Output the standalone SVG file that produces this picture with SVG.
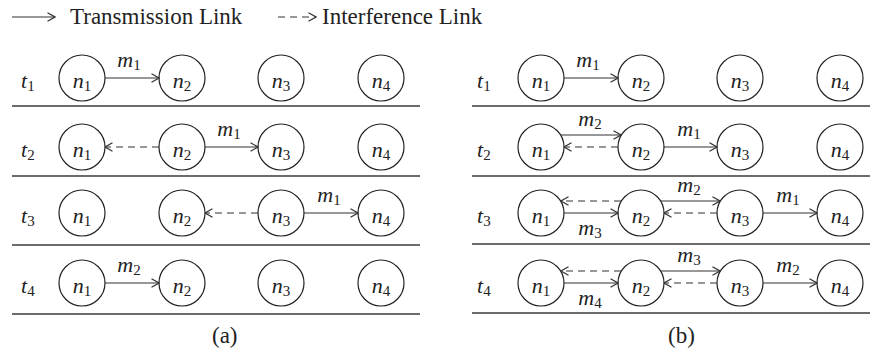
<svg xmlns="http://www.w3.org/2000/svg" width="870" height="354" viewBox="0 0 870 354">
<style>
.nd{fill:none;stroke:#222;stroke-width:1.2}
.sep{stroke:#3a3a3a;stroke-width:1.6}
.ln{stroke:#333;stroke-width:1.2;fill:none}
.ds{stroke-dasharray:7 5}
</style>
<defs>
<marker id="ah" viewBox="0 0 10 10" refX="9.5" refY="5" markerWidth="10" markerHeight="10" markerUnits="userSpaceOnUse" orient="auto">
<path d="M2,0.8 L9.5,5 L2,9.2" fill="none" stroke="#333" stroke-width="1.2"/>
</marker>
</defs>
<rect width="870" height="354" fill="#fff"/>
<g id="legend" fill="#222">
<line class="ln" x1="12" y1="17" x2="55" y2="17" marker-end="url(#ah)"/>
<text x="70" y="24" font-family="Liberation Serif, Noto Serif, serif" font-size="23">Transmission Link</text>
<line class="ln ds" x1="278" y1="17" x2="316" y2="17" marker-end="url(#ah)"/>
<text x="322" y="24" font-family="Liberation Serif, Noto Serif, serif" font-size="23">Interference Link</text>
</g>
<g id="separators">
<line class="sep" x1="12" y1="106" x2="420" y2="106"/>
<line class="sep" x1="12" y1="176" x2="420" y2="176"/>
<line class="sep" x1="12" y1="245" x2="420" y2="245"/>
<line class="sep" x1="12" y1="314" x2="420" y2="314"/>
<line class="sep" x1="472" y1="106" x2="870" y2="106"/>
<line class="sep" x1="472" y1="176" x2="870" y2="176"/>
<line class="sep" x1="472" y1="244" x2="870" y2="244"/>
<line class="sep" x1="472" y1="313" x2="870" y2="313"/>
</g>
<g id="time-labels" fill="#222" font-family="Liberation Serif, Noto Serif, serif" font-size="22" font-style="italic">
<text x="21" y="88">t<tspan dy="3" font-size="15" font-style="normal">1</tspan></text>
<text x="21" y="157">t<tspan dy="3" font-size="15" font-style="normal">2</tspan></text>
<text x="21" y="223">t<tspan dy="3" font-size="15" font-style="normal">3</tspan></text>
<text x="21" y="293">t<tspan dy="3" font-size="15" font-style="normal">4</tspan></text>
<text x="477" y="88">t<tspan dy="3" font-size="15" font-style="normal">1</tspan></text>
<text x="477" y="157">t<tspan dy="3" font-size="15" font-style="normal">2</tspan></text>
<text x="477" y="223">t<tspan dy="3" font-size="15" font-style="normal">3</tspan></text>
<text x="477" y="293">t<tspan dy="3" font-size="15" font-style="normal">4</tspan></text>
</g>
<g id="nodes" fill="#222" font-family="Liberation Serif, Noto Serif, serif" font-size="22" font-style="italic" text-anchor="middle">
<g id="a1n1"><circle class="nd" cx="82" cy="78" r="23"/><text x="82" y="88">n<tspan dy="3" font-size="15" font-style="normal">1</tspan></text></g>
<g id="a1n2"><circle class="nd" cx="182" cy="78" r="23"/><text x="182" y="88">n<tspan dy="3" font-size="15" font-style="normal">2</tspan></text></g>
<g id="a1n3"><circle class="nd" cx="281" cy="78" r="23"/><text x="281" y="88">n<tspan dy="3" font-size="15" font-style="normal">3</tspan></text></g>
<g id="a1n4"><circle class="nd" cx="381" cy="78" r="23"/><text x="381" y="88">n<tspan dy="3" font-size="15" font-style="normal">4</tspan></text></g>
<g id="a2n1"><circle class="nd" cx="82" cy="147" r="23"/><text x="82" y="157">n<tspan dy="3" font-size="15" font-style="normal">1</tspan></text></g>
<g id="a2n2"><circle class="nd" cx="182" cy="147" r="23"/><text x="182" y="157">n<tspan dy="3" font-size="15" font-style="normal">2</tspan></text></g>
<g id="a2n3"><circle class="nd" cx="281" cy="147" r="23"/><text x="281" y="157">n<tspan dy="3" font-size="15" font-style="normal">3</tspan></text></g>
<g id="a2n4"><circle class="nd" cx="381" cy="147" r="23"/><text x="381" y="157">n<tspan dy="3" font-size="15" font-style="normal">4</tspan></text></g>
<g id="a3n1"><circle class="nd" cx="82" cy="213" r="23"/><text x="82" y="223">n<tspan dy="3" font-size="15" font-style="normal">1</tspan></text></g>
<g id="a3n2"><circle class="nd" cx="182" cy="213" r="23"/><text x="182" y="223">n<tspan dy="3" font-size="15" font-style="normal">2</tspan></text></g>
<g id="a3n3"><circle class="nd" cx="281" cy="213" r="23"/><text x="281" y="223">n<tspan dy="3" font-size="15" font-style="normal">3</tspan></text></g>
<g id="a3n4"><circle class="nd" cx="381" cy="213" r="23"/><text x="381" y="223">n<tspan dy="3" font-size="15" font-style="normal">4</tspan></text></g>
<g id="a4n1"><circle class="nd" cx="82" cy="283" r="23"/><text x="82" y="293">n<tspan dy="3" font-size="15" font-style="normal">1</tspan></text></g>
<g id="a4n2"><circle class="nd" cx="182" cy="283" r="23"/><text x="182" y="293">n<tspan dy="3" font-size="15" font-style="normal">2</tspan></text></g>
<g id="a4n3"><circle class="nd" cx="281" cy="283" r="23"/><text x="281" y="293">n<tspan dy="3" font-size="15" font-style="normal">3</tspan></text></g>
<g id="a4n4"><circle class="nd" cx="381" cy="283" r="23"/><text x="381" y="293">n<tspan dy="3" font-size="15" font-style="normal">4</tspan></text></g>
<g id="b1n1"><circle class="nd" cx="541" cy="78" r="23"/><text x="541" y="88">n<tspan dy="3" font-size="15" font-style="normal">1</tspan></text></g>
<g id="b1n2"><circle class="nd" cx="641" cy="78" r="23"/><text x="641" y="88">n<tspan dy="3" font-size="15" font-style="normal">2</tspan></text></g>
<g id="b1n3"><circle class="nd" cx="740" cy="78" r="23"/><text x="740" y="88">n<tspan dy="3" font-size="15" font-style="normal">3</tspan></text></g>
<g id="b1n4"><circle class="nd" cx="840" cy="78" r="23"/><text x="840" y="88">n<tspan dy="3" font-size="15" font-style="normal">4</tspan></text></g>
<g id="b2n1"><circle class="nd" cx="541" cy="147" r="23"/><text x="541" y="157">n<tspan dy="3" font-size="15" font-style="normal">1</tspan></text></g>
<g id="b2n2"><circle class="nd" cx="641" cy="147" r="23"/><text x="641" y="157">n<tspan dy="3" font-size="15" font-style="normal">2</tspan></text></g>
<g id="b2n3"><circle class="nd" cx="740" cy="147" r="23"/><text x="740" y="157">n<tspan dy="3" font-size="15" font-style="normal">3</tspan></text></g>
<g id="b2n4"><circle class="nd" cx="840" cy="147" r="23"/><text x="840" y="157">n<tspan dy="3" font-size="15" font-style="normal">4</tspan></text></g>
<g id="b3n1"><circle class="nd" cx="541" cy="213" r="23"/><text x="541" y="223">n<tspan dy="3" font-size="15" font-style="normal">1</tspan></text></g>
<g id="b3n2"><circle class="nd" cx="641" cy="213" r="23"/><text x="641" y="223">n<tspan dy="3" font-size="15" font-style="normal">2</tspan></text></g>
<g id="b3n3"><circle class="nd" cx="740" cy="213" r="23"/><text x="740" y="223">n<tspan dy="3" font-size="15" font-style="normal">3</tspan></text></g>
<g id="b3n4"><circle class="nd" cx="840" cy="213" r="23"/><text x="840" y="223">n<tspan dy="3" font-size="15" font-style="normal">4</tspan></text></g>
<g id="b4n1"><circle class="nd" cx="541" cy="283" r="23"/><text x="541" y="293">n<tspan dy="3" font-size="15" font-style="normal">1</tspan></text></g>
<g id="b4n2"><circle class="nd" cx="641" cy="283" r="23"/><text x="641" y="293">n<tspan dy="3" font-size="15" font-style="normal">2</tspan></text></g>
<g id="b4n3"><circle class="nd" cx="740" cy="283" r="23"/><text x="740" y="293">n<tspan dy="3" font-size="15" font-style="normal">3</tspan></text></g>
<g id="b4n4"><circle class="nd" cx="840" cy="283" r="23"/><text x="840" y="293">n<tspan dy="3" font-size="15" font-style="normal">4</tspan></text></g>
</g>
<g id="connectors">
<line class="ln" x1="105" y1="78" x2="159" y2="78" marker-end="url(#ah)"/>
<line class="ln ds" x1="159" y1="147" x2="105" y2="147" marker-end="url(#ah)"/>
<line class="ln" x1="205" y1="147" x2="258" y2="147" marker-end="url(#ah)"/>
<line class="ln ds" x1="258" y1="213" x2="205" y2="213" marker-end="url(#ah)"/>
<line class="ln" x1="304" y1="213" x2="358" y2="213" marker-end="url(#ah)"/>
<line class="ln" x1="105" y1="283" x2="159" y2="283" marker-end="url(#ah)"/>
<line class="ln" x1="564" y1="78" x2="618" y2="78" marker-end="url(#ah)"/>
<line class="ln" x1="561" y1="135" x2="621" y2="135" marker-end="url(#ah)"/>
<line class="ln ds" x1="618" y1="147" x2="564" y2="147" marker-end="url(#ah)"/>
<line class="ln" x1="664" y1="147" x2="717" y2="147" marker-end="url(#ah)"/>
<line class="ln ds" x1="621" y1="201" x2="561" y2="201" marker-end="url(#ah)"/>
<line class="ln" x1="564" y1="213" x2="618" y2="213" marker-end="url(#ah)"/>
<line class="ln" x1="661" y1="201" x2="720" y2="201" marker-end="url(#ah)"/>
<line class="ln ds" x1="717" y1="213" x2="664" y2="213" marker-end="url(#ah)"/>
<line class="ln" x1="763" y1="213" x2="817" y2="213" marker-end="url(#ah)"/>
<line class="ln ds" x1="621" y1="271" x2="561" y2="271" marker-end="url(#ah)"/>
<line class="ln" x1="564" y1="283" x2="618" y2="283" marker-end="url(#ah)"/>
<line class="ln" x1="661" y1="271" x2="720" y2="271" marker-end="url(#ah)"/>
<line class="ln ds" x1="717" y1="283" x2="664" y2="283" marker-end="url(#ah)"/>
<line class="ln" x1="763" y1="283" x2="817" y2="283" marker-end="url(#ah)"/>
</g>
<g id="connector-labels" fill="#222" font-family="Liberation Serif, Noto Serif, serif" font-size="22" font-style="italic" text-anchor="middle">
<text x="129" y="67">m<tspan dy="3" font-size="15" font-style="normal">1</tspan></text>
<text x="229" y="136">m<tspan dy="3" font-size="15" font-style="normal">1</tspan></text>
<text x="329" y="202">m<tspan dy="3" font-size="15" font-style="normal">1</tspan></text>
<text x="129" y="272">m<tspan dy="3" font-size="15" font-style="normal">2</tspan></text>
<text x="588" y="67">m<tspan dy="3" font-size="15" font-style="normal">1</tspan></text>
<text x="590" y="126">m<tspan dy="3" font-size="15" font-style="normal">2</tspan></text>
<text x="689" y="136">m<tspan dy="3" font-size="15" font-style="normal">1</tspan></text>
<text x="590" y="235">m<tspan dy="3" font-size="15" font-style="normal">3</tspan></text>
<text x="689" y="192">m<tspan dy="3" font-size="15" font-style="normal">2</tspan></text>
<text x="788" y="202">m<tspan dy="3" font-size="15" font-style="normal">1</tspan></text>
<text x="590" y="305">m<tspan dy="3" font-size="15" font-style="normal">4</tspan></text>
<text x="689" y="262">m<tspan dy="3" font-size="15" font-style="normal">3</tspan></text>
<text x="788" y="272">m<tspan dy="3" font-size="15" font-style="normal">2</tspan></text>
</g>
<g id="captions" fill="#222" font-family="Liberation Serif, Noto Serif, serif" font-size="23">
<text x="212" y="343">(a)</text>
<text x="668" y="343">(b)</text>
</g>
</svg>
